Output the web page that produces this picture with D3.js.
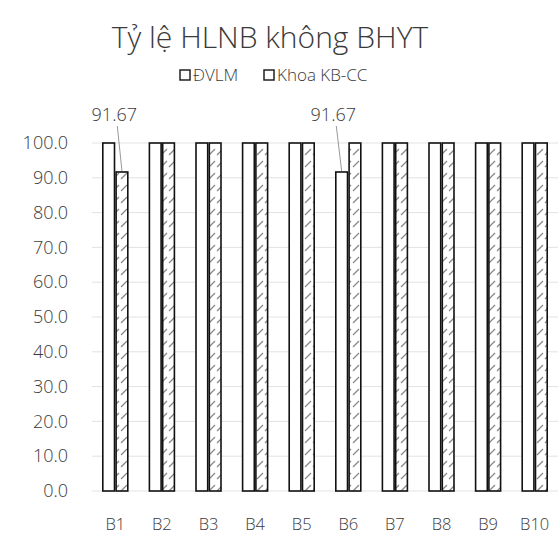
<!DOCTYPE html>
<html><head><meta charset="utf-8">
<script src="https://cdn.jsdelivr.net/npm/d3@7"></script>
<style>body{margin:0;background:#fff}svg{display:block}text{font-family:"Open Sans",sans-serif}</style>
</head><body><svg id="c" width="560" height="537"></svg>
<script>
const categories = ["B1","B2","B3","B4","B5","B6","B7","B8","B9","B10"];
const seriesNames = ["ĐVLM","Khoa KB-CC"];
const dvlm = [100,100,100,100,100,91.67,100,100,100,100];
const khoa = [91.67,100,100,100,100,100,100,100,100,100];
const yTicks = [0,10,20,30,40,50,60,70,80,90,100];
const title = "Tỷ lệ HLNB không BHYT";

const svg = d3.select("#c");
const defs = svg.append("defs");
const pat = defs.append("pattern").attr("id","hatch").attr("patternUnits","userSpaceOnUse")
  .attr("width",8).attr("height",12);
pat.append("rect").attr("width",8).attr("height",12).attr("fill","#fff");
pat.append("path").attr("d","M1,11 L7,5").attr("stroke","#888").attr("stroke-width",1.3);

const m = {l:92, r:558, t:143, b:491};
const x = d3.scaleBand().domain(categories).range([m.l,m.r]);
const y = d3.scaleLinear().domain([0,100]).range([m.b,m.t]);
const xs = d3.scaleBand().domain([0,1]).range([-12.5,12.5]).paddingInner(0.12);
const tc = "#3a3a3a";

svg.append("text").attr("x",270).attr("y",48).attr("text-anchor","middle")
  .attr("font-size",30).attr("font-weight",300).attr("fill",tc).text(title);

// legend
const leg = svg.append("g");
const legX = [180, 264];
seriesNames.forEach((n,i)=>{
  leg.append("rect").attr("x",legX[i]).attr("y",70).attr("width",10).attr("height",10)
    .attr("fill", "#fff").attr("stroke","#222").attr("stroke-width",1.5);
  leg.append("text").attr("x",legX[i]+13).attr("y",81).attr("font-size",17).attr("font-weight",300).attr("fill",tc).text(n);
});

// gridlines
svg.append("g").selectAll("line").data(yTicks).join("line")
  .attr("x1",m.l).attr("x2",m.r).attr("y1",d=>y(d)).attr("y2",d=>y(d))
  .attr("stroke","#e2e2e2").attr("stroke-width",1);

// y axis labels
const ya = svg.append("g").attr("transform",`translate(${m.l-24},0)`)
  .call(d3.axisLeft(y).tickValues(yTicks).tickFormat(d3.format(".1f")).tickSize(0).tickPadding(0));
ya.select(".domain").remove();
ya.selectAll("text").attr("font-size",18).attr("font-weight",300).attr("fill",tc).attr("font-family","Open Sans");

// x axis labels
const xa = svg.append("g").attr("transform",`translate(0,${m.b+24})`)
  .call(d3.axisBottom(x).tickSize(0).tickPadding(0));
xa.select(".domain").remove();
xa.selectAll("text").attr("font-size",16.5).attr("font-weight",300).attr("fill",tc).attr("font-family","Open Sans").attr("dy","0.9em");

const series = [dvlm, khoa];
series.forEach((vals,si)=>{
  svg.append("g").selectAll("rect").data(vals).join("rect")
    .attr("x",(d,i)=>x(categories[i])+x.bandwidth()/2+xs(si))
    .attr("y",d=>y(d)).attr("width",xs.bandwidth()).attr("height",d=>y(0)-y(d))
    .attr("fill", si===0 ? "#fff" : "url(#hatch)")
    .attr("stroke","#111").attr("stroke-width",1.6);
});

// data labels for non-100 values
series.forEach((vals,si)=>{
  vals.forEach((v,i)=>{
    if(v===100) return;
    const bx = x(categories[i])+x.bandwidth()/2+xs(si)+xs.bandwidth()/2;
    const lx = x(categories[i])+x.bandwidth()/2 - (si===0?14:0);
    svg.append("line").attr("x1",lx+2).attr("y1",y(100)-17).attr("x2",bx).attr("y2",y(v)-1)
      .attr("stroke","#999").attr("stroke-width",1);
    svg.append("text").attr("x",lx-1).attr("y",y(100)-22).attr("text-anchor","middle")
      .attr("font-size",18).attr("font-weight",300).attr("fill",tc).text(v.toFixed(2));
  });
});
</script></body></html>
